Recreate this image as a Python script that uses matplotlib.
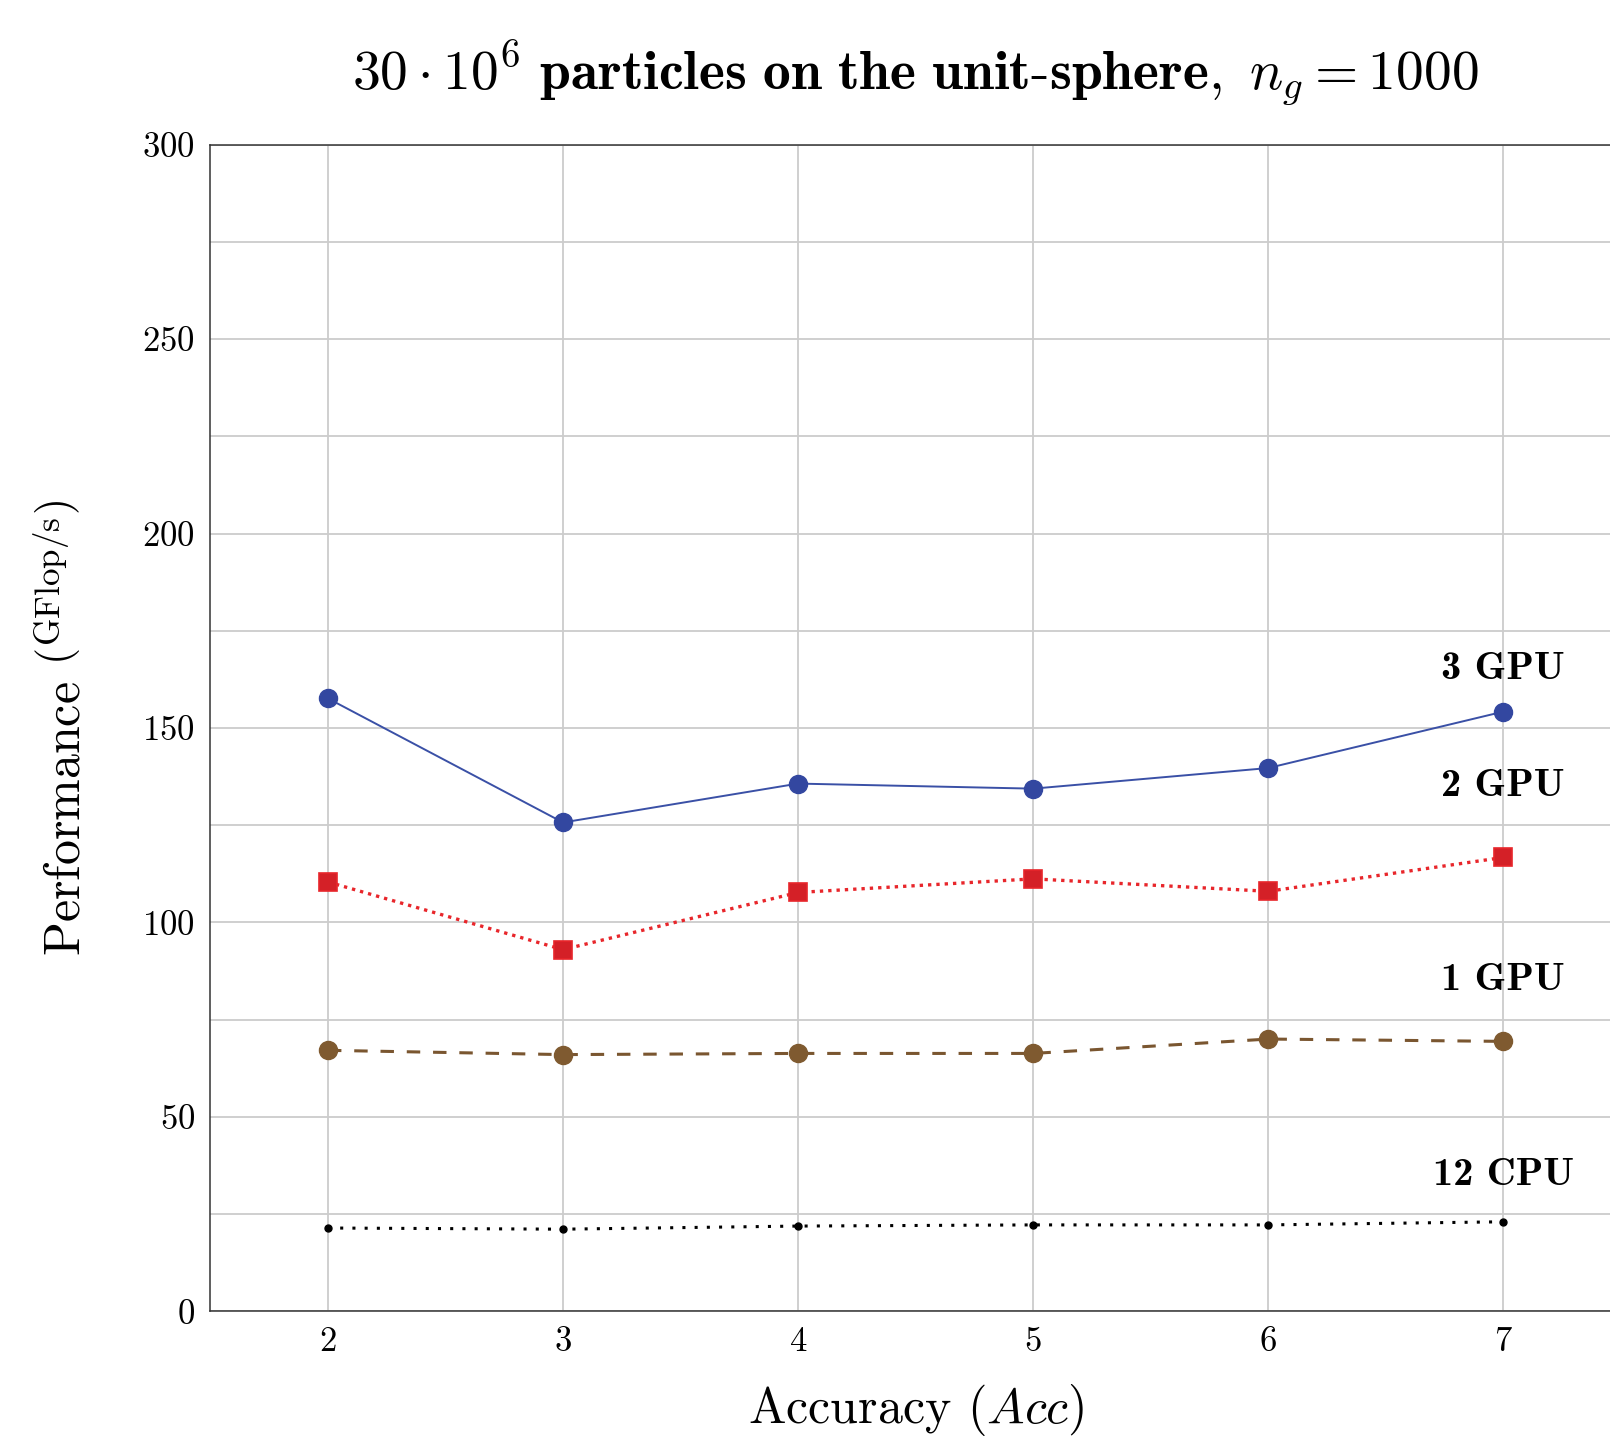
import matplotlib
matplotlib.use("Agg")
import matplotlib.pyplot as plt
from matplotlib.ticker import MultipleLocator

plt.rcParams['font.family'] = 'serif'
plt.rcParams['font.serif'] = ['cmr10']
plt.rcParams['mathtext.fontset'] = 'cm'
plt.rcParams['axes.formatter.use_mathtext'] = True
plt.rcParams['axes.unicode_minus'] = False

accuracy = [2, 3, 4, 5, 6, 7]
gpu3 = [157.6, 125.7, 135.7, 134.4, 139.7, 154.2]
gpu2 = [110.4, 93.0, 107.7, 111.2, 108.0, 116.7]
gpu1 = [67.1, 66.0, 66.3, 66.3, 70.0, 69.4]
cpu12 = [21.4, 21.1, 21.9, 22.2, 22.2, 23.0]

series_labels = ["3 GPU", "2 GPU", "1 GPU", "12 CPU"]
label_y = [165, 135, 85, 35]
yticks = [0, 50, 100, 150, 200, 250, 300]

fig = plt.figure(figsize=(16.10, 14.39), dpi=100)
ax = fig.add_axes([0.1307, 0.0888, 0.876, 0.8106])

ax.plot(accuracy, gpu3, color='#3a50a6', lw=1.4, marker='o', ms=13,
        mfc='#3347a0', mec='#3347a0', zorder=5)
ax.plot(accuracy, gpu2, color='#e8262b', lw=2.4, ls=(0, (1, 1.5)), marker='s',
        ms=13, mfc='#d42027', mec='#e8262b', mew=1.2, zorder=5)
ax.plot(accuracy, gpu1, color='#7a5630', lw=2.2, ls=(0, (4.4, 4.2)), marker='o',
        ms=13, mfc='#7f5a30', mec='#7f5a30', zorder=5)
ax.plot(accuracy, cpu12, color='black', lw=2.2, ls=(0, (1, 3.0)), marker='o',
        ms=5, mfc='black', mec='black', zorder=5)

for lab, yy in zip(series_labels, label_y):
    ax.text(accuracy[-1], yy, lab, ha='center', va='center',
            fontfamily='cmb10', fontsize=29, zorder=6)

ax.set_xlim(1.5, 7.5)
ax.set_ylim(0, 300)
ax.set_xticks(accuracy)
ax.set_yticks(yticks)
ax.yaxis.set_minor_locator(MultipleLocator(25))
ax.grid(True, which='both', color='#cccccc', lw=1.3)
ax.set_axisbelow(True)
ax.tick_params(which='both', length=0, labelsize=25, pad=11)
for s in ax.spines.values():
    s.set_color('#333333')
    s.set_linewidth(1.1)

ax.set_xlabel(r"Accuracy $(Acc)$", fontsize=36, labelpad=17)
ax.set_ylabel(r"Performance $\left({}^{\mathrm{GFlop/s}}\right)$", fontsize=36, labelpad=38)
fig.text(0.5683, 0.949,
         r"$30\cdot 10^6\ \mathbf{particles\ on\ the\ unit}$-$\mathbf{sphere,}\ n_g = 1000$",
         ha='center', va='center', fontsize=40)

fig.savefig("out.png", dpi=100)
